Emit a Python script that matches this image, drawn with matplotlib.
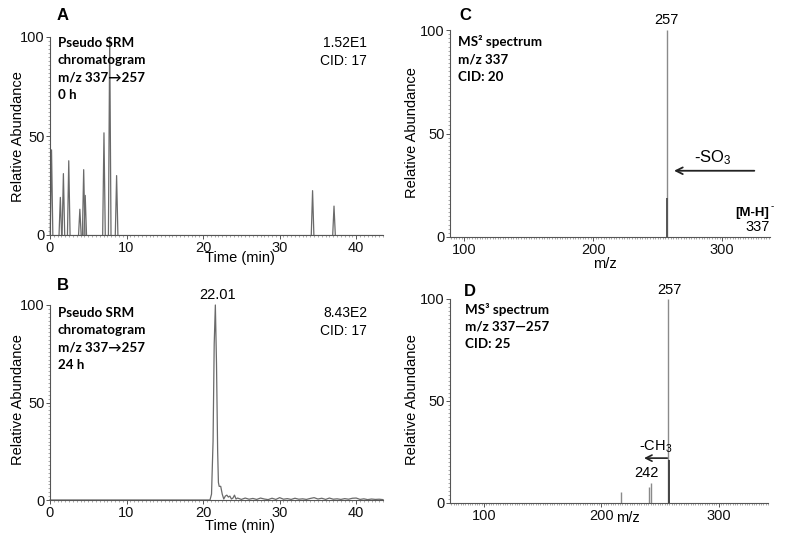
import matplotlib
matplotlib.use("Agg")
import matplotlib.pyplot as plt
from matplotlib.ticker import MultipleLocator, FixedLocator

# ---------------- data ----------------
# Panel A: pseudo SRM chromatogram, 0 h (peak times in min, relative heights)
a_peak_times = [0.2, 1.35, 1.75, 2.45, 3.9, 4.4, 4.6, 7.05, 7.8, 8.7, 34.3, 37.1]
a_peak_heights = [43, 19, 31, 37.5, 13, 33, 20, 51.6, 100, 30, 22.4, 14.6]

# Panel B: pseudo SRM chromatogram, 24 h (trace)
b_times = [0, 20.9, 21.1, 21.3, 21.45, 21.6, 21.75, 21.9, 22.0, 22.1, 22.3, 22.5,
           22.7, 22.9, 23.1, 23.3, 23.5, 23.7, 23.9, 24.1, 24.3, 24.5,
           25.0, 25.5, 26.0, 26.5, 27.0, 27.5, 28.0, 28.5, 29.0, 29.5, 30.0,
           30.5, 31.0, 31.5, 32.0, 32.5, 33.0, 33.5, 34.0, 34.5, 35.0, 35.5,
           36.0, 36.5, 37.0, 37.5, 38.0, 38.5, 39.0, 39.5, 40.0, 40.5, 41.0,
           41.5, 42.0, 42.5, 43.0, 43.5]
b_values = [0, 0, 3, 30, 80, 100, 70, 25, 9, 7, 7, 3,
            0.5, 2, 2.5, 1.5, 2, 0.5, 1, 2.5, 0.5, 1,
            0.3, 1.0, 0.4, 0.8, 0.3, 1.0, 0.5, 0.2, 0.9, 0.3, 1.2,
            0.4, 0.7, 0.3, 0.9, 0.4, 0.6, 0.3, 0.8, 1.2, 0.5, 0.9,
            0.3, 1.0, 0.4, 0.6, 0.3, 0.7, 0.4, 0.9, 1.0, 0.3, 0.6,
            0.2, 0.5, 0.3, 0.4, 0.2]
b_peak_label = "22.01"
b_peak_time = 21.6

# Panel C: MS2 spectrum of m/z 337
c_mz = [257, 257.5]
c_int = [100, 19]

# Panel D: MS3 spectrum of m/z 337 -> 257
d_mz = [217, 241, 242, 257, 257.5]
d_int = [5.2, 8, 9.8, 100, 21]

# ---------------- style ----------------
plt.rcParams['font.family'] = ['Liberation Sans', 'DejaVu Sans']
plt.rcParams['mathtext.fontset'] = 'custom'
plt.rcParams['mathtext.rm'] = 'Liberation Sans'
plt.rcParams['mathtext.it'] = 'Liberation Sans:italic'
plt.rcParams['mathtext.bf'] = 'Liberation Sans:bold'

W, H = 800, 543
fig = plt.figure(figsize=(8, 5.43), dpi=100)

def rect(l, r, t, b):
    return [l / W, 1 - b / H, (r - l) / W, (b - t) / H]

def px(x, y):
    return x / W, 1 - y / H

LC = '#6a6a6a'
SPC = '#555555'
FS = 10.5
BOLD = ['Lato', 'DejaVu Sans']
BFS = 9.6

def style(ax, xlim, xmaj, xmin):
    ax.set_xlim(*xlim)
    ax.set_ylim(0, 100)
    for s in ['top', 'right']:
        ax.spines[s].set_visible(False)
    for s in ['left', 'bottom']:
        ax.spines[s].set_color(SPC)
        ax.spines[s].set_linewidth(0.8)
    ax.xaxis.set_major_locator(xmaj)
    ax.xaxis.set_minor_locator(MultipleLocator(xmin))
    ax.yaxis.set_major_locator(FixedLocator([0, 50, 100]))
    ax.yaxis.set_minor_locator(MultipleLocator(2))
    ax.tick_params(which='major', length=3, width=0.7, color=SPC, labelsize=FS,
                   pad=1, labelcolor='#111111')
    ax.tick_params(which='minor', length=1.6, width=0.5, color='#888888')

# Panel A
axA = fig.add_axes(rect(50, 383, 37, 235))
axA.plot([0, 43.5], [0, 0], color=LC, lw=0.8)
w = 0.17
for t, h in zip(a_peak_times, a_peak_heights):
    axA.plot([t - w, t, t + w], [0, h, 0], color=LC, lw=0.9, clip_on=False)
style(axA, (0, 43.5), FixedLocator([0, 10, 20, 30, 40]), 0.5)

# Panel B
axB = fig.add_axes(rect(50, 383, 305, 500))
axB.plot(b_times, b_values, color=LC, lw=0.9, clip_on=False)
style(axB, (0, 43.5), FixedLocator([0, 10, 20, 30, 40]), 0.5)
axB.text(b_peak_time + 0.3, 101.5, b_peak_label, ha='center', va='bottom', fontsize=FS)

# Panel C
axC = fig.add_axes(rect(450, 770, 30, 237))
axC.vlines(c_mz, 0, c_int, colors=['#8a8a8a', '#555555'], lw=[1.0, 1.4])
style(axC, (89, 337), FixedLocator([100, 200, 300]), 2)
axC.text(c_mz[0], 101.5, "257", ha='center', va='bottom', fontsize=FS)
axC.annotate('', xy=(260.5, 32), xytext=(327, 32),
             arrowprops=dict(arrowstyle='->', color='#222222', lw=1.3,
                             mutation_scale=12))
axC.text(293, 38.5, r'-SO$_3$', ha='center', va='center', fontsize=12)
axC.text(337, 5, "337", ha='right', va='center', fontsize=FS)

# Panel D
axD = fig.add_axes(rect(450, 768, 299, 503))
axD.vlines(d_mz, 0, d_int, colors=['#8a8a8a', '#8a8a8a', '#8a8a8a', '#8a8a8a', '#444444'],
           lw=[1.0, 1.0, 1.0, 1.0, 1.4])
style(axD, (71, 342), FixedLocator([100, 200, 300]), 2)
axD.text(d_mz[3] + 1, 101, "257", ha='center', va='bottom', fontsize=FS)
axD.text(d_mz[2] - 4, 11.5, "242", ha='center', va='bottom', fontsize=FS)
axD.annotate('', xy=(234, 22), xytext=(258.5, 22),
             arrowprops=dict(arrowstyle='->', color='#222222', lw=1.2,
                             mutation_scale=11))
axD.text(246, 27.5, r'-CH$_3$', ha='center', va='center', fontsize=FS)

# Axis labels
fig.text(*px(240, 258), "Time (min)", ha='center', va='center', fontsize=FS)
fig.text(*px(240, 526), "Time (min)", ha='center', va='center', fontsize=FS)
fig.text(*px(605, 264), "m/z", ha='center', va='center', fontsize=FS)
fig.text(*px(628, 518), "m/z", ha='center', va='center', fontsize=FS)
for (x, y) in [(18, 137), (18, 400), (412, 133), (412, 400)]:
    fig.text(*px(x, y), "Relative Abundance", rotation=90, ha='center', va='center',
             fontsize=FS)

# Panel letters
for lab, (x, y) in zip("ABCD", [(63, 15), (63, 285), (465, 16), (470, 292)]):
    fig.text(*px(x, y), lab, ha='center', va='center', fontsize=12, fontweight='bold')

# Descriptions
def lines(x, y0, texts, dy=17.3):
    for i, s in enumerate(texts):
        fig.text(*px(x, y0 + i * dy), s, ha='left', va='center', fontsize=BFS,
                 fontweight='bold', family=BOLD)

lines(58, 43, ["Pseudo SRM", "chromatogram", "m/z 337\u2192257", "0 h"])
lines(58, 313, ["Pseudo SRM", "chromatogram", "m/z 337\u2192257", "24 h"])
lines(458, 42, ["MS\u00b2 spectrum", "m/z 337", "CID: 20"])
lines(465, 309, ["MS\u00b3 spectrum", "m/z 337\u2014257", "CID: 25"])

# Intensity / CID
fig.text(*px(367, 43), "1.52E1", ha='right', va='center', fontsize=10)
fig.text(*px(367, 61), "CID: 17", ha='right', va='center', fontsize=10)
fig.text(*px(367, 313), "8.43E2", ha='right', va='center', fontsize=10)
fig.text(*px(367, 331), "CID: 17", ha='right', va='center', fontsize=10)

# [M-H]- label
fig.text(*px(769, 213), "[M-H]", ha='right', va='center', fontsize=9.5,
         fontweight='bold')
fig.text(*px(771, 206), "-", ha='left', va='center', fontsize=7)

fig.savefig("out.png", dpi=100)
